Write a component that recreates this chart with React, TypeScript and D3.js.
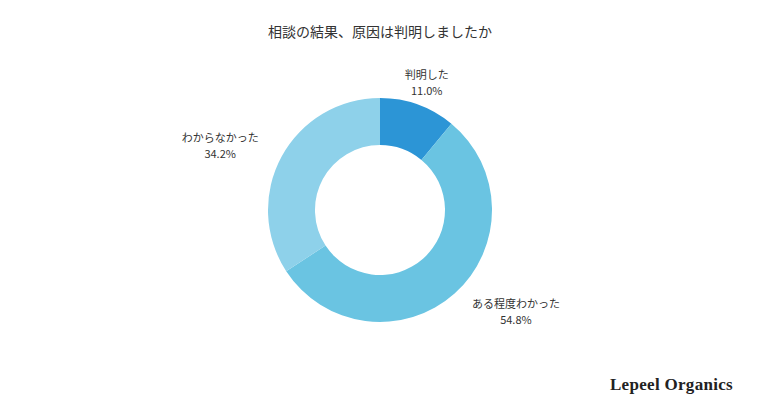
import React from "react";
import * as d3 from "d3";

// 相談の結果、原因は判明しましたか
const categories = ["判明した", "ある程度わかった", "わからなかった"];
const values = [11.0, 54.8, 34.2];
const colors = ["#2c95d6", "#6ac4e2", "#8ed1ea"];

const width = 760;
const height = 408;
const cx = 380;
const cy = 210;
const outerR = 112;
const innerR = 65;
const labelR = 136;

const App: React.FC = () => {
  const pie = d3
    .pie<number>()
    .sort(null)
    .value((d) => d);
  const arcs = pie(values);
  const arc = d3
    .arc<d3.PieArcDatum<number>>()
    .innerRadius(innerR)
    .outerRadius(outerR);

  const font = "'Noto Sans CJK JP', 'Noto Sans', sans-serif";

  return (
    <svg
      width={width}
      height={height}
      style={{ position: "absolute", left: 0, top: 0, background: "#fff" }}
    >
      <text
        x={width / 2}
        y={31}
        textAnchor="middle"
        dominantBaseline="central"
        fontSize={14}
        fill="#333"
        fontFamily={font}
      >
        相談の結果、原因は判明しましたか
      </text>
      <g transform={`translate(${cx},${cy})`}>
        {arcs.map((a, i) => (
          <path key={i} d={arc(a) as string} fill={colors[i]} />
        ))}
        {arcs.map((a, i) => {
          const mid = (a.startAngle + a.endAngle) / 2;
          const s = Math.sin(mid);
          const px = s * (labelR + 2);
          const py = -Math.cos(mid) * labelR;
          // block width roughly = number of full-width chars * font size
          const w = categories[i].length * 11;
          const bx = s > 0.5 ? px + w / 2 : s < -0.5 ? px - w / 2 : px;
          return (
            <g key={"l" + i} fontFamily={font} fontSize={11} fill="#333">
              <text x={bx} y={py - 8} textAnchor="middle" dominantBaseline="central">
                {categories[i]}
              </text>
              <text x={bx} y={py + 8} textAnchor="middle" dominantBaseline="central">
                {values[i].toFixed(1)}%
              </text>
            </g>
          );
        })}
      </g>
      <text
        x={733}
        y={390}
        textAnchor="end"
        fontSize={17}
        fontFamily="'Liberation Serif', serif"
        fontWeight="bold"
        fill="#222"
        letterSpacing={0.3}
      >
        Lepeel Organics
      </text>
    </svg>
  );
};

export default App;
